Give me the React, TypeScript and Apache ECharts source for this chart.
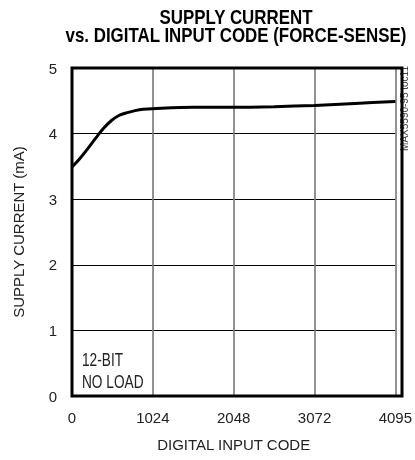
import React, { useEffect, useRef } from "react";
import * as echarts from "echarts";

const codes = [0, 100, 200, 300, 400, 500, 600, 700, 800, 900, 1024, 1536, 2048, 2560, 3072, 3584, 4095];
const current = [3.49, 3.62, 3.77, 3.93, 4.08, 4.2, 4.28, 4.32, 4.35, 4.37, 4.38, 4.4, 4.4, 4.41, 4.43, 4.46, 4.49];
const xTicks = [0, 1024, 2048, 3072, 4095];
const titleLines = ["SUPPLY CURRENT", "vs. DIGITAL INPUT CODE (FORCE-SENSE)"];
const noteLines = ["12-BIT", "NO LOAD"];
const sideNote = "MAX5590-95 toc11";

const FONT = '"Liberation Sans", Arial, sans-serif';
const GL = 72, GT = 68, GW = 330, GH = 328;

export default function App() {
  const ref = useRef<HTMLDivElement>(null);
  useEffect(() => {
    if (!ref.current) return;
    const chart = echarts.init(ref.current, null, { renderer: "svg" });
    chart.setOption({
      animation: false,
      textStyle: { fontFamily: FONT },
      grid: { left: GL, top: GT, width: GW, height: GH, show: false },
      xAxis: {
        type: "value",
        min: 0,
        max: 4095,
        interval: 1024,
        name: "DIGITAL INPUT CODE",
        nameLocation: "middle",
        nameGap: 41,
        nameTextStyle: { fontFamily: FONT, fontSize: 15, color: "#222" },
        axisLine: { show: false },
        axisTick: { show: false },
        axisLabel: {
          customValues: xTicks,
          formatter: (v: number) => String(v),
          fontFamily: FONT,
          fontSize: 15,
          color: "#222",
          margin: 14,
        },
        splitLine: { show: true, lineStyle: { color: "#777", width: 1.6 } },
      },
      yAxis: {
        type: "value",
        min: 0,
        max: 5,
        interval: 1,
        name: "SUPPLY CURRENT (mA)",
        nameLocation: "middle",
        nameGap: 46,
        nameTextStyle: { fontFamily: FONT, fontSize: 15, color: "#222" },
        axisLine: { show: false },
        axisTick: { show: false },
        axisLabel: {
          fontFamily: FONT,
          fontSize: 15,
          color: "#222",
          margin: 15,
          padding: [6, 0, 0, 0],
          formatter: (v: number) => String(v),
        },
        splitLine: { show: true, lineStyle: { color: "#000", width: 1 } },
      },
      graphic: [
        {
          type: "rect",
          z: 100,
          shape: { x: GL, y: GT, width: GW, height: GH },
          style: { fill: "none", stroke: "#000", lineWidth: 3 },
        },
        {
          type: "text",
          x: 236,
          y: 16.5,
          scaleX: 0.845,
          style: { text: titleLines[0], font: `bold 20px ${FONT}`, fill: "#000", textAlign: "center", textVerticalAlign: "middle" },
        },
        {
          type: "text",
          x: 236,
          y: 34.5,
          scaleX: 0.845,
          style: { text: titleLines[1], font: `bold 20px ${FONT}`, fill: "#000", textAlign: "center", textVerticalAlign: "middle" },
        },
        {
          type: "text",
          x: 82,
          y: 360,
          scaleX: 0.72,
          style: { text: noteLines[0], font: `19px ${FONT}`, fill: "#222", textAlign: "left", textVerticalAlign: "middle" },
        },
        {
          type: "text",
          x: 82,
          y: 382,
          scaleX: 0.72,
          style: { text: noteLines[1], font: `19px ${FONT}`, fill: "#222", textAlign: "left", textVerticalAlign: "middle" },
        },
        {
          type: "text",
          x: 404,
          y: 66,
          rotation: Math.PI / 2,
          style: { text: sideNote, font: `10px ${FONT}`, fill: "#444", textAlign: "right", textVerticalAlign: "middle" },
        },
      ],
      series: [
        {
          type: "line",
          data: codes.map((c, i) => [c, current[i]]),
          smooth: 0.3,
          symbol: "none",
          lineStyle: { color: "#000", width: 3 },
        },
      ],
    });
    return () => chart.dispose();
  }, []);
  return <div ref={ref} style={{ position: "fixed", left: 0, top: 0, width: 415, height: 460 }} />;
}
